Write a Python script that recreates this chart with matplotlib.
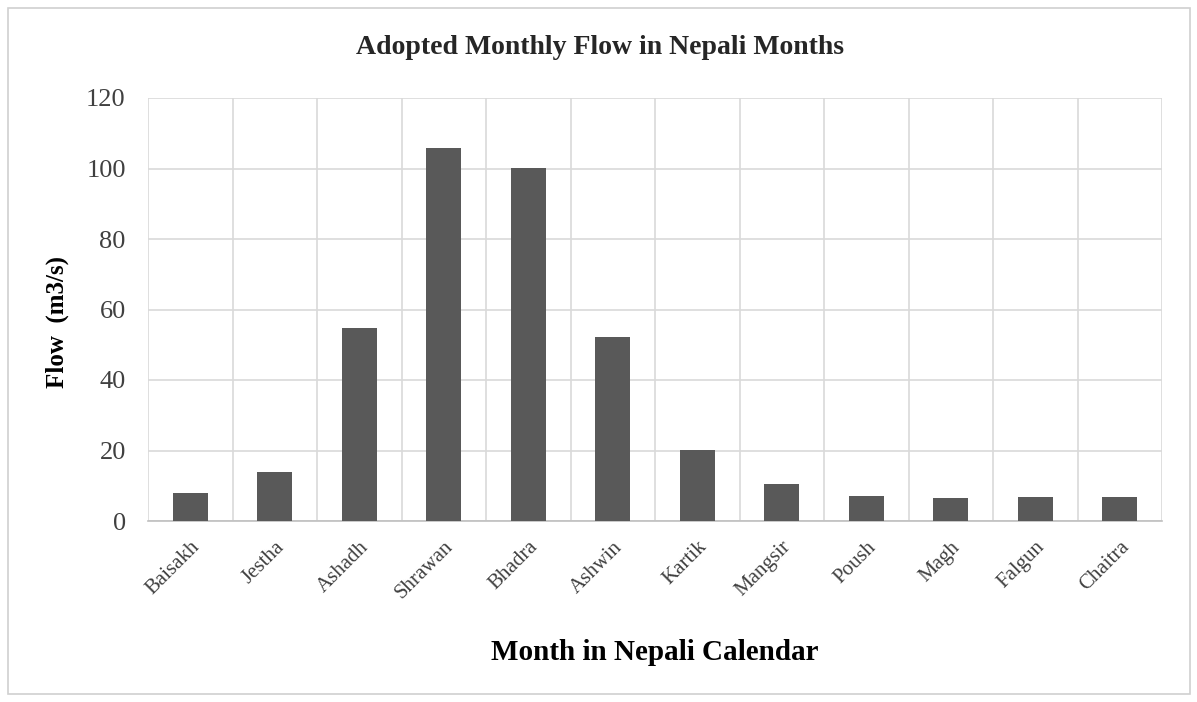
import matplotlib.pyplot as plt
import numpy as np
from matplotlib.patches import Rectangle

months = ["Baisakh", "Jestha", "Ashadh", "Shrawan", "Bhadra", "Ashwin",
          "Kartik", "Mangsir", "Poush", "Magh", "Falgun", "Chaitra"]
flow = [8.0, 13.8, 54.8, 105.8, 100.2, 52.2, 20.1, 10.4, 7.2, 6.6, 6.9, 6.9]
y_ticks = [0, 20, 40, 60, 80, 100, 120]

plt.rcParams["font.family"] = ["Liberation Serif", "DejaVu Serif"]

fig = plt.figure(figsize=(11.97, 7.02), dpi=100)
ax = fig.add_axes([148 / 1197, 1 - 521 / 702, (1162 - 148) / 1197, (521 - 98) / 702])

# outer chart border
fig.patches.append(Rectangle((8 / 1197, 8 / 702), 1182 / 1197, 686 / 702,
                             transform=fig.transFigure, fill=False,
                             edgecolor="#d0d0d0", linewidth=1.2))

x = np.arange(len(months))
ax.bar(x, flow, width=0.41, color="#595959", zorder=3)

ax.set_xlim(-0.5, len(months) - 0.5)
ax.set_ylim(0, 120)
ax.set_yticks(y_ticks)
ax.set_xticks(x)
ax.set_xticklabels(months, rotation=45, ha="right", rotation_mode="anchor",
                   fontsize=15, color="#404040")
ax.set_xticks(np.arange(-0.5, len(months), 1.0), minor=True)
ax.tick_params(axis="y", labelsize=19, length=0, pad=16, colors="#404040")
ax.tick_params(axis="x", which="both", length=0, pad=12)

ax.grid(axis="y", color="#d9d9d9", linewidth=1.2, zorder=0)
ax.grid(axis="x", which="minor", color="#d9d9d9", linewidth=1.2, zorder=0)
ax.grid(axis="x", which="major", visible=False)

for side in ["top", "right", "left"]:
    ax.spines[side].set_visible(False)
ax.spines["bottom"].set_color("#bfbfbf")
ax.spines["bottom"].set_linewidth(1.2)

fig.text(600 / 1197, 1 - 48 / 702, "Adopted Monthly Flow in Nepali Months",
         fontsize=20, fontweight="bold", color="#262626",
         ha="center", va="center")
ax.set_ylabel("Flow  (m3/s)", fontsize=18, fontweight="bold")
ax.yaxis.set_label_coords(-0.078, 0.47)
ax.set_xlabel("Month in Nepali Calendar", fontsize=21, fontweight="bold",
              labelpad=26)

fig.savefig("out.png", dpi=100)
